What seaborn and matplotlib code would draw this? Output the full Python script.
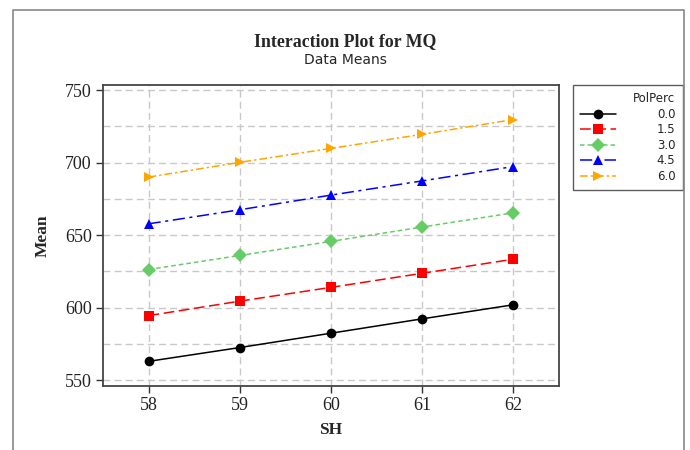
import matplotlib
matplotlib.use("Agg")
import matplotlib.pyplot as plt
import seaborn as sns
import pandas as pd
from matplotlib.lines import Line2D
from matplotlib.ticker import MultipleLocator

sns.set_style("white")

sh_levels = [58, 59, 60, 61, 62]
pol_levels = ["0.0", "1.5", "3.0", "4.5", "6.0"]
mean_00 = [563.0, 572.5, 582.4, 592.3, 602.0]
mean_15 = [594.5, 604.5, 614.0, 623.7, 633.4]
mean_30 = [626.3, 636.0, 645.7, 655.6, 665.4]
mean_45 = [657.8, 667.5, 677.6, 687.4, 697.3]
mean_60 = [690.0, 700.2, 709.8, 719.5, 729.7]

series = [mean_00, mean_15, mean_30, mean_45, mean_60]
rows = []
for lvl, vals in zip(pol_levels, series):
    for x, v in zip(sh_levels, vals):
        rows.append({"SH": x, "PolPerc": lvl, "Mean": v})
df = pd.DataFrame(rows)

colors = ["#000000", "#FF0000", "#66CC66", "#0000FF", "#FFA500"]
markers = ["o", "s", "D", "^", ">"]
dashes = ["", (7, 3), (3, 2), (8, 3, 2, 3), (5, 2, 1.5, 2)]

fig = plt.figure(figsize=(6.9, 4.5), dpi=100)
ax = fig.add_axes([103 / 690, 1 - 386 / 450, (559 - 103) / 690, (386 - 85) / 450])

sns.lineplot(data=df, x="SH", y="Mean", hue="PolPerc", style="PolPerc",
             palette=colors, markers=markers, dashes=dashes,
             hue_order=pol_levels, style_order=pol_levels,
             markersize=7, markeredgewidth=0, linewidth=1.1, ax=ax, legend=True)

ax.set_xlim(57.5, 62.5)
ax.set_ylim(546, 753.5)
ax.set_xticks(sh_levels)
ax.yaxis.set_major_locator(MultipleLocator(50))
ax.yaxis.set_minor_locator(MultipleLocator(25))
ax.grid(True, which="both", axis="y", color="#c8c8c8", linestyle=(0, (5, 3)), linewidth=1)
ax.grid(True, which="major", axis="x", color="#c8c8c8", linestyle=(0, (5, 3)), linewidth=1)
ax.set_axisbelow(True)
ax.tick_params(axis="both", which="major", direction="out", length=5, width=1,
               color="#333333", bottom=True, left=True, pad=3)
ax.tick_params(axis="y", which="minor", length=0)
for lab in ax.get_xticklabels() + ax.get_yticklabels():
    lab.set_fontfamily("Liberation Serif")
    lab.set_fontsize(13)
    lab.set_color("#222222")
for s in ax.spines.values():
    s.set_color("#444444")
    s.set_linewidth(1.3)

ax.set_xlabel("SH", fontfamily="Liberation Serif", fontweight="bold", fontsize=12.5, labelpad=6)
ax.set_ylabel("Mean", fontfamily="Liberation Serif", fontweight="bold", fontsize=12.5, labelpad=10)

leg = ax.legend(title="PolPerc", loc="upper left", bbox_to_anchor=(573 / 690, 1 - 85 / 450),
                bbox_transform=fig.transFigure, borderaxespad=0, frameon=True, fancybox=False,
                fontsize=8.5, title_fontsize=8.5, handlelength=3.0, borderpad=0.6,
                labelspacing=0.22, handletextpad=3.5, alignment="right")
leg.get_frame().set_edgecolor("#333333")
leg.get_frame().set_linewidth(1.0)
for t in leg.get_texts():
    t.set_fontfamily("DejaVu Sans")

fig.text(0.5, 1 - 42 / 450, "Interaction Plot for MQ", ha="center", va="center",
         fontfamily="Liberation Serif", fontweight="bold", fontsize=12.8)
fig.text(0.5, 1 - 60 / 450, "Data Means", ha="center", va="center",
         fontfamily="DejaVu Sans", fontsize=10)

# figure frame (left, top, right)
fx0, fx1, fy1 = 13 / 690, 684 / 690, 1 - 10 / 450
fig.add_artist(Line2D([fx0, fx0, fx1, fx1], [0, fy1, fy1, 0], transform=fig.transFigure,
                      color="#888888", linewidth=1.2))

fig.savefig("out.png", dpi=100)
